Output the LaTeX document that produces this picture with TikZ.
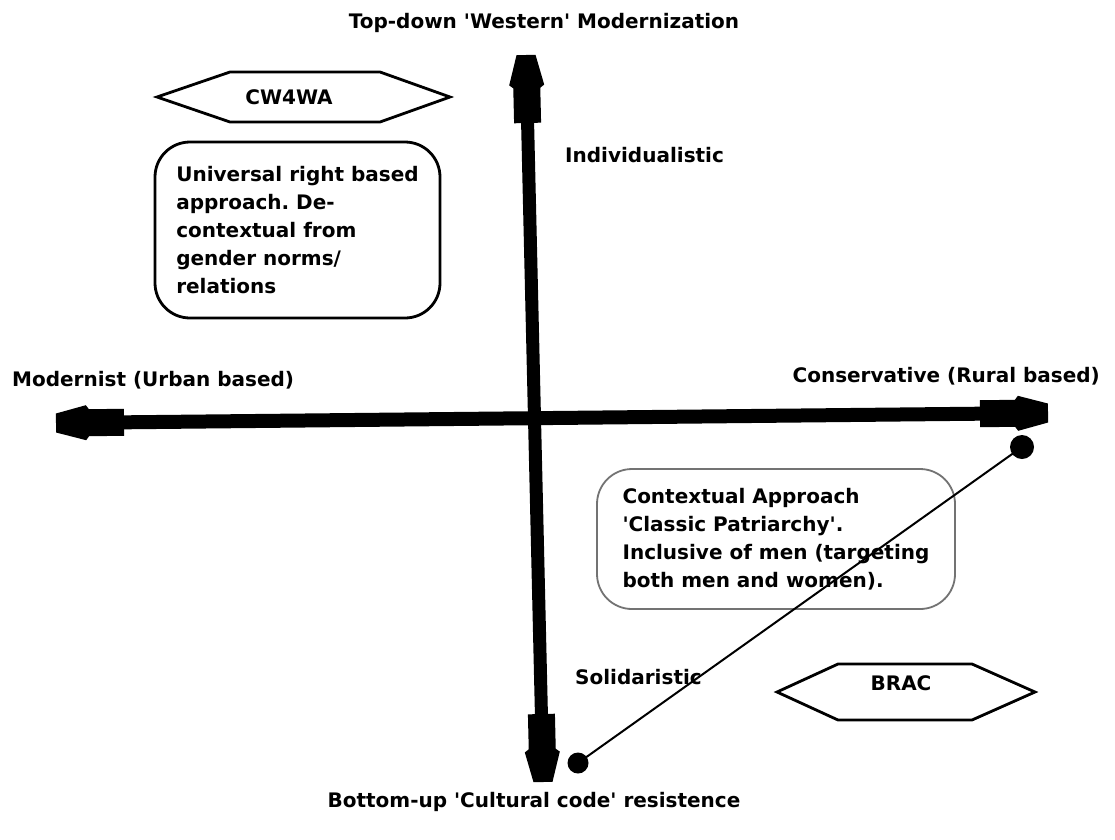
\documentclass[tikz,border=0pt]{standalone}
\usepackage{fontspec}
\setmainfont{DejaVu Sans}
\usetikzlibrary{calc}
\newcommand\axhead[2]{\fill ($(#1)!9.5pt!90:(#2)$) -- ($(#1)!30pt!(#2)!17.5pt!90:(#2)$) -- ($(#1)!33pt!(#2)!13.5pt!90:(#2)$) -- ($(#1)!68pt!(#2)!13.5pt!90:(#2)$) -- ($(#1)!68pt!(#2)!13.5pt!-90:(#2)$) -- ($(#1)!33pt!(#2)!13.5pt!-90:(#2)$) -- ($(#1)!30pt!(#2)!17.5pt!-90:(#2)$) -- ($(#1)!9.5pt!-90:(#2)$) -- cycle;}
\newcommand\sq{\textquotesingle}
\frenchspacing
\begin{document}
\begin{tikzpicture}[x=1pt,y=-1pt,
  lbl/.style={font=\fontsize{20}{28}\selectfont\bfseries\frenchspacing, inner sep=0pt},
  roundbox/.style={lbl, draw, rounded corners=35pt, align=left},
  hexline/.style={line width=2.8pt, line join=miter},
  dot/.style={circle, fill=black, inner sep=0pt}]
\useasboundingbox[fill=white] (0,0) rectangle (1115,839);
% axes
\coordinate (vt) at (526,55);
\coordinate (vb) at (543,782);
\coordinate (hl) at (56,423);
\coordinate (hr) at (1048,413);
\draw[line width=13pt] ($(vt)!40pt!(vb)$) -- ($(vb)!40pt!(vt)$);
\draw[line width=14pt] ($(hl)!40pt!(hr)$) -- ($(hr)!40pt!(hl)$);
\axhead{vt}{vb}
\axhead{vb}{vt}
\axhead{hl}{hr}
\axhead{hr}{hl}
% axis labels
\node[lbl] (top) at (544,23) {Top-down \sq Western\sq{} Modernization};
\node[lbl] (bot) at (534,802) {Bottom-up \sq Cultural code\sq{} resistence};
\node[lbl, anchor=west] (modl) at (12,380) {Modernist (Urban based)};
\node[lbl, anchor=east] (cons) at (1100,376) {Conservative (Rural based)};
\node[lbl, anchor=west] (ind) at (565,155) {Individualistic};
\node[lbl, anchor=west] (sol) at (575,677) {Solidaristic};
% hexagons
\draw[hexline] (157,97) -- (230,72) -- (380,72) -- (450,97) -- (380,122) -- (230,122) -- cycle;
\node[lbl] (cw) at (289,97) {CW4WA};
\draw[hexline] (777,692) -- (838,664) -- (972,664) -- (1035,692) -- (972,720) -- (838,720) -- cycle;
\node[lbl] (brac) at (901,683) {BRAC};
% boxes
\node[roundbox, line width=2.8pt, minimum width=285pt, minimum height=176pt] (univ) at (297.5,230)
  {Universal right based\\approach. De-\\contextual from\\gender norms/\\relations};
\node[roundbox, draw=black!55, line width=1.8pt, minimum width=358pt, minimum height=140pt] (ctx) at (776,539)
  {Contextual Approach\\\sq Classic Patriarchy\sq.\\Inclusive of men (targeting\\both men and women).};
% dots and line
\node[dot, minimum size=24pt] (d1) at (1022,447) {};
\node[dot, minimum size=21pt] (d2) at (578,763) {};
\draw[line width=2pt] (d1.center) -- (d2.center);
\end{tikzpicture}
\end{document}
